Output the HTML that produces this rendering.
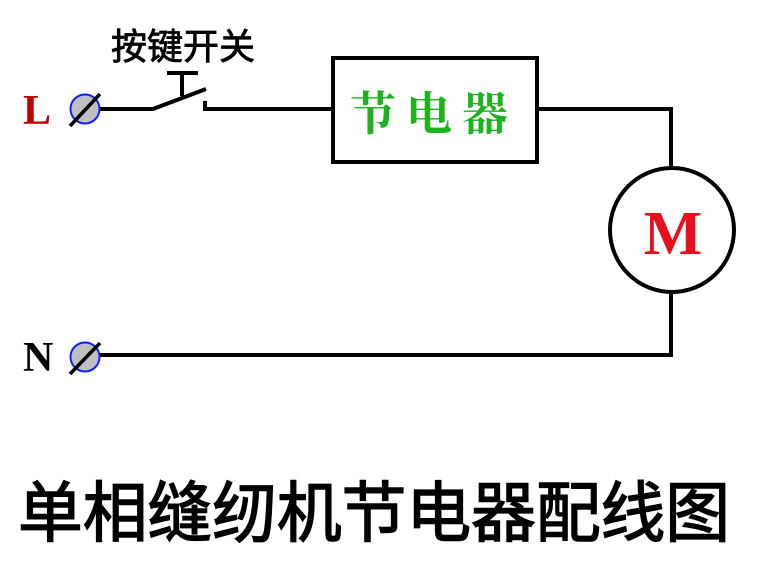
<!DOCTYPE html>
<html><head><meta charset="utf-8"><style>
body{margin:0;background:#fff;width:766px;height:564px;overflow:hidden}
</style></head><body>
<svg width="766" height="564" xmlns="http://www.w3.org/2000/svg">
<g stroke="#000" stroke-width="4" fill="none">
<path d="M100 109 H153 L206 89"/>
<path d="M167 73 H198 M182 73 V96"/>
<path d="M205 101 V109 H333"/>
<rect x="333" y="58" width="204" height="104"/>
<path d="M537 109 H671 V170"/>
<circle cx="672" cy="230" r="62"/>
<path d="M671 292 V355 H100"/>
</g>
<circle cx="85" cy="109" r="14.5" fill="#c0c0c0" stroke="#1020ff" stroke-width="2"/>
<line x1="70" y1="126" x2="100" y2="94" stroke="#000" stroke-width="3.5"/>
<circle cx="85" cy="357" r="14.5" fill="#c0c0c0" stroke="#1020ff" stroke-width="2"/>
<line x1="70" y1="374" x2="100" y2="343" stroke="#000" stroke-width="3.5"/>
<text x="23" y="124" font-family="Liberation Serif,serif" font-weight="bold" font-size="42" fill="#c00000">L</text>
<text x="23" y="371" font-family="Liberation Serif,serif" font-weight="bold" font-size="42" fill="#000">N</text>
<text x="111" y="59" font-family="Liberation Sans,Noto Sans CJK SC,sans-serif" font-size="36" fill="#000" stroke="#000" stroke-width="0.8">按键开关</text>
<text x="350" y="130" font-family="Liberation Serif,Noto Serif CJK SC,serif" font-weight="bold" font-size="46" letter-spacing="10" fill="#1db31d">节电器</text>
<text x="673" y="254" text-anchor="middle" font-family="Liberation Serif,serif" font-weight="bold" font-size="62" fill="#e8101e">M</text>
<text x="18" y="536" font-family="Liberation Sans,Noto Sans CJK SC,sans-serif" font-size="66" fill="#000" stroke="#000" stroke-width="1.5" textLength="712" lengthAdjust="spacingAndGlyphs">单相缝纫机节电器配线图</text>
</svg>
</body></html>
